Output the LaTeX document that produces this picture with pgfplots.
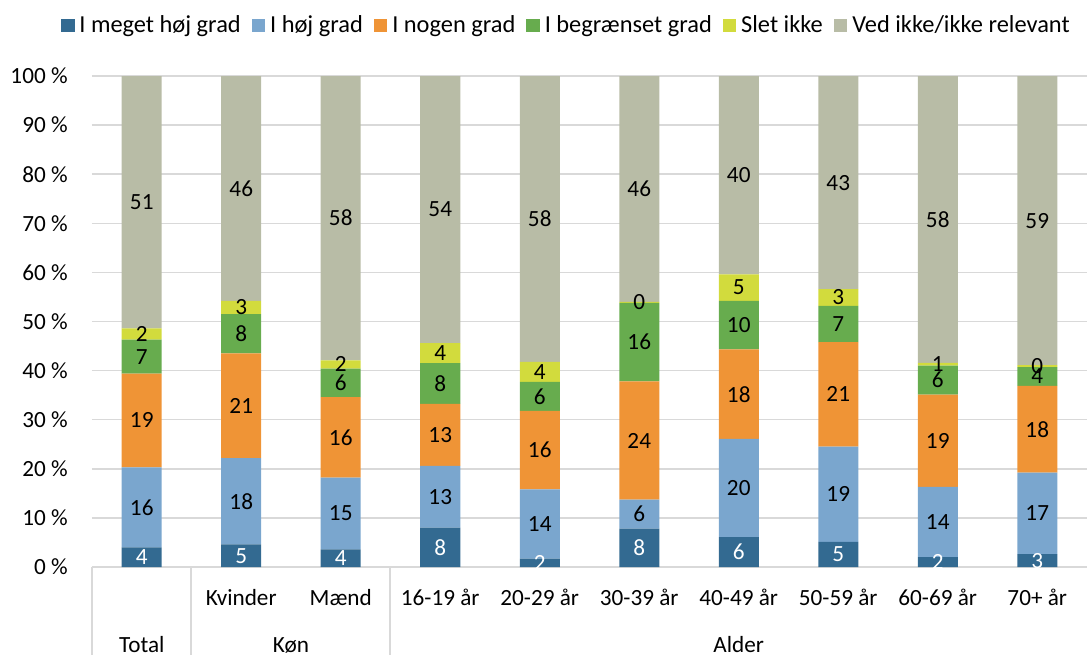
\documentclass[border=0pt]{standalone}
\usepackage{fontspec}
\setmainfont{Carlito}
\usepackage{pgfplots}
\usepackage{pgfplotstable}
\pgfplotsset{compat=1.18}
\definecolor{cA}{RGB}{51,106,145}
\definecolor{cB}{RGB}{122,166,206}
\definecolor{cC}{RGB}{239,148,54}
\definecolor{cD}{RGB}{103,172,78}
\definecolor{cE}{RGB}{210,219,61}
\definecolor{cF}{RGB}{184,188,166}
\definecolor{gridgray}{RGB}{217,217,217}
\pgfplotstableread{
x a b c d e f
0 4.0 16.3 19.1 6.9 2.3 51.4
1 4.6 17.6 21.3 8.0 2.7 45.8
2 3.6 14.6 16.4 5.8 1.7 57.9
3 8.0 12.6 12.6 8.3 4.1 54.4
4 1.7 14.1 16.0 5.9 4.1 58.2
5 7.8 5.9 24.1 16.0 0.2 46.0
6 6.1 20.0 18.2 9.9 5.4 40.4
7 5.1 19.4 21.3 7.4 3.4 43.4
8 2.0 14.3 18.8 5.9 0.6 58.4
9 2.6 16.6 17.7 3.8 0.4 58.9
}\datatable
\begin{document}
\fontsize{11.6}{13.9}\selectfont
\begin{tikzpicture}[font=\fontsize{11.6}{13.9}\selectfont]
\path[use as bounding box] (-46pt,-44pt) rectangle (497.5pt,283.5pt);
\begin{axis}[
  at={(0,0)}, anchor=south west,
  scale only axis, width=497.5pt, height=245.5pt,
  ybar stacked, bar width=20pt,
  xmin=-0.5, xmax=9.5, ymin=0, ymax=100,
  enlarge x limits=false,
  clip=false,
  axis x line*=bottom, axis y line*=left,
  x axis line style={draw=gridgray, line width=1pt},
  y axis line style={draw=none},
  xtick={0,...,9},
  xticklabels={,Kvinder,Mænd,16-19 år,20-29 år,30-39 år,40-49 år,50-59 år,60-69 år,70+ år},
  ytick={0,10,...,100},
  yticklabels={0 \%,10 \%,20 \%,30 \%,40 \%,50 \%,60 \%,70 \%,80 \%,90 \%,100 \%},
  major tick length=0pt,
  xtick style={draw=none}, ytick style={draw=none},
  xticklabel style={anchor=base, yshift=-19pt, inner sep=0pt},
  yticklabel style={anchor=east, xshift=-12pt, inner sep=0pt},
  ymajorgrids, grid style={draw=gridgray, line width=0.75pt},
  /pgf/number format/assume math mode=true,
  point meta=explicit,
  nodes near coords={\pgfmathprintnumber[fixed,precision=0]{\pgfplotspointmeta}},
  every node near coord/.style={anchor=center, inner sep=0pt, text=black},
  legend image code/.code={\fill[#1] (0pt,-3.4pt) rectangle (6.8pt,3.4pt);},
  legend columns=-1,
  legend style={draw=none, fill=none, at={(-0.0312,1.103)}, anchor=west,
    inner sep=0pt, outer sep=0pt,
    font=\fontsize{12.2}{14.6}\selectfont,
    nodes={inner sep=0pt},
    /tikz/every odd column/.append style={column sep=2.4pt},
    /tikz/every even column/.append style={column sep=5.5pt}},
]
\addplot[fill=cA, draw=none, every node near coord/.append style={text=white}] table[x=x, y=a, meta=a] {\datatable};
\addplot[fill=cB, draw=none] table[x=x, y=b, meta=b] {\datatable};
\addplot[fill=cC, draw=none] table[x=x, y=c, meta=c] {\datatable};
\addplot[fill=cD, draw=none] table[x=x, y=d, meta=d] {\datatable};
\addplot[fill=cE, draw=none] table[x=x, y=e, meta=e] {\datatable};
\addplot[fill=cF, draw=none] table[x=x, y=f, meta=f] {\datatable};
\legend{I meget høj grad, I høj grad, I nogen grad, I begrænset grad, Slet ikke, Ved ikke/ikke relevant}
\draw[gridgray, line width=1pt] (axis cs:-0.5,0) -- ([yshift=-44pt]axis cs:-0.5,0);
\draw[gridgray, line width=1pt] (axis cs:0.5,0) -- ([yshift=-44pt]axis cs:0.5,0);
\draw[gridgray, line width=1pt] (axis cs:2.5,0) -- ([yshift=-44pt]axis cs:2.5,0);
\node[anchor=base, inner sep=0pt] at ([yshift=-42.5pt]axis cs:0,0) {Total};
\node[anchor=base, inner sep=0pt] at ([yshift=-42.5pt]axis cs:1.5,0) {Køn};
\node[anchor=base, inner sep=0pt] at ([yshift=-42.5pt]axis cs:6,0) {Alder};
\end{axis}
\end{tikzpicture}
\end{document}
